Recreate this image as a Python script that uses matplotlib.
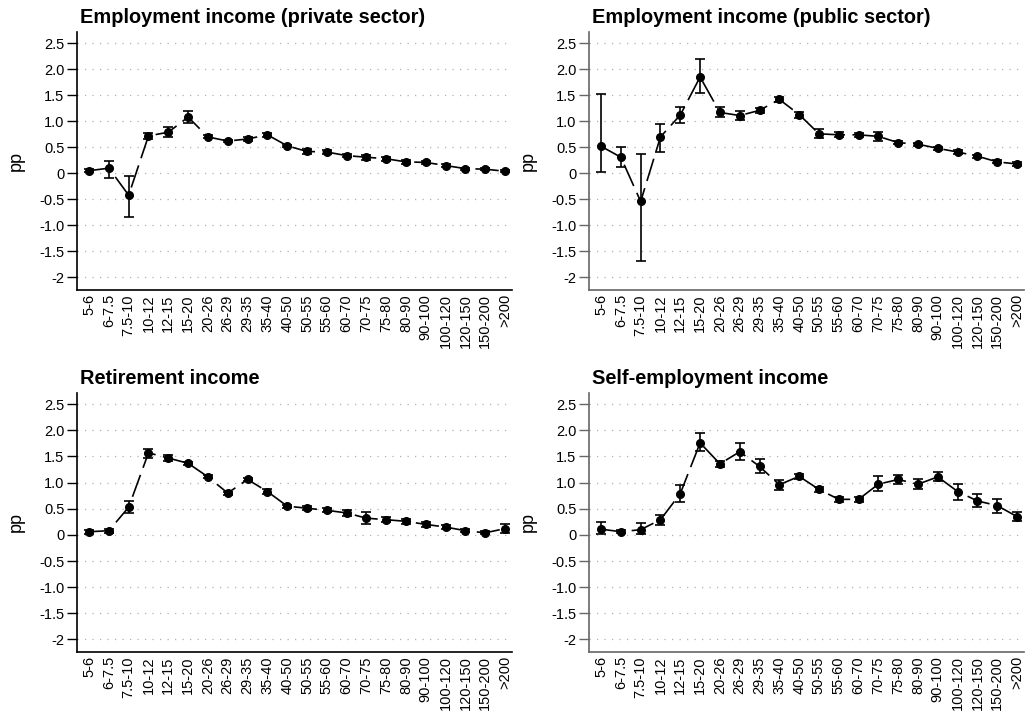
import numpy as np
import matplotlib
matplotlib.use("Agg")
import matplotlib.pyplot as plt

plt.rcParams['font.family'] = ['Liberation Sans', 'DejaVu Sans']

brackets = ["5-6", "6-7.5", "7.5-10", "10-12", "12-15", "15-20", "20-26", "26-29",
            "29-35", "35-40", "40-50", "50-55", "55-60", "60-70", "70-75", "75-80",
            "80-90", "90-100", "100-120", "120-150", "150-200", ">200"]

# private sector employment income
priv_est = [0.05, 0.10, -0.42, 0.72, 0.79, 1.08, 0.70, 0.62, 0.66, 0.74, 0.53,
            0.42, 0.41, 0.34, 0.31, 0.28, 0.22, 0.21, 0.15, 0.09, 0.08, 0.04]
priv_lo = [0.02, -0.08, -0.83, 0.66, 0.69, 0.97, 0.67, 0.60, 0.63, 0.70, 0.51,
           0.37, 0.37, 0.31, 0.26, 0.24, 0.18, 0.18, 0.13, 0.07, 0.06, 0.02]
priv_hi = [0.08, 0.23, -0.06, 0.78, 0.89, 1.19, 0.73, 0.64, 0.69, 0.78, 0.55,
           0.47, 0.45, 0.37, 0.36, 0.32, 0.26, 0.24, 0.17, 0.11, 0.10, 0.06]

# public sector employment income
pub_est = [0.52, 0.31, -0.54, 0.70, 1.12, 1.85, 1.17, 1.11, 1.21, 1.42, 1.13,
           0.76, 0.74, 0.74, 0.71, 0.59, 0.56, 0.48, 0.41, 0.33, 0.22, 0.18]
pub_lo = [0.03, 0.13, -1.69, 0.41, 0.96, 1.54, 1.08, 1.03, 1.15, 1.37, 1.07,
          0.67, 0.69, 0.69, 0.63, 0.56, 0.53, 0.45, 0.37, 0.30, 0.19, 0.15]
pub_hi = [1.53, 0.51, 0.38, 0.94, 1.28, 2.20, 1.28, 1.19, 1.26, 1.47, 1.18,
          0.85, 0.79, 0.78, 0.79, 0.62, 0.59, 0.51, 0.45, 0.36, 0.25, 0.21]

# retirement income
ret_est = [0.06, 0.08, 0.53, 1.57, 1.47, 1.37, 1.11, 0.80, 1.06, 0.83, 0.55,
           0.51, 0.47, 0.42, 0.32, 0.29, 0.26, 0.20, 0.15, 0.08, 0.04, 0.12]
ret_lo = [0.02, 0.04, 0.42, 1.48, 1.42, 1.34, 1.08, 0.77, 1.03, 0.79, 0.52,
          0.47, 0.43, 0.37, 0.20, 0.24, 0.21, 0.16, 0.12, 0.05, 0.01, 0.03]
ret_hi = [0.10, 0.12, 0.65, 1.65, 1.52, 1.40, 1.14, 0.83, 1.09, 0.87, 0.58,
          0.55, 0.51, 0.47, 0.44, 0.34, 0.31, 0.24, 0.18, 0.11, 0.07, 0.21]

# self-employment income
self_est = [0.11, 0.06, 0.10, 0.29, 0.79, 1.76, 1.36, 1.59, 1.31, 0.96, 1.12,
            0.87, 0.68, 0.68, 0.97, 1.06, 0.97, 1.11, 0.83, 0.65, 0.56, 0.35]
self_lo = [0.02, 0.03, 0.02, 0.19, 0.62, 1.61, 1.29, 1.44, 1.18, 0.86, 1.06,
           0.83, 0.62, 0.63, 0.84, 0.97, 0.87, 1.03, 0.67, 0.54, 0.42, 0.26]
self_hi = [0.25, 0.09, 0.22, 0.39, 0.96, 1.95, 1.42, 1.75, 1.45, 1.05, 1.17,
           0.92, 0.73, 0.73, 1.12, 1.14, 1.06, 1.20, 0.97, 0.78, 0.69, 0.44]

panels = [
    ("Employment income (private sector)", priv_est, priv_lo, priv_hi),
    ("Employment income (public sector)", pub_est, pub_lo, pub_hi),
    ("Retirement income", ret_est, ret_lo, ret_hi),
    ("Self-employment income", self_est, self_lo, self_hi),
]

yticks = [2.5, 2.0, 1.5, 1.0, 0.5, 0, -0.5, -1.0, -1.5, -2]
ytick_labels = ["2.5", "2.0", "1.5", "1.0", "0.5", "0", "-0.5", "-1.0", "-1.5", "-2"]

fig = plt.figure(figsize=(10.25, 7.13), dpi=100)
boxes = [
    [0.0751, 0.5933, 0.4244, 0.3622],
    [0.5746, 0.5933, 0.4244, 0.3622],
    [0.0751, 0.0856, 0.4244, 0.3636],
    [0.5746, 0.0856, 0.4244, 0.3636],
]

x = np.arange(len(brackets))

for i, (title, est, lo, hi) in enumerate(panels):
    ax = fig.add_axes(boxes[i])
    est = np.array(est)
    lo = np.array(lo)
    hi = np.array(hi)

    for yv in yticks:
        ax.axhline(yv, color='#b0b0b0', lw=0.9, ls=(0, (1, 5)), zorder=0)

    ax.plot(x, est, color='black', lw=1.2, ls=(0, (14, 4.5)), zorder=2)
    ax.errorbar(x, est, yerr=[est - lo, hi - est], fmt='none', ecolor='black',
                elinewidth=1.2, capsize=3.6, capthick=1.2, zorder=3)
    ax.plot(x, est, 'o', color='black', ms=5.5, zorder=4)

    ax.set_xlim(-0.61, 21.35)
    ax.set_ylim(-2.24, 2.72)
    ax.set_yticks(yticks)
    ax.set_yticklabels(ytick_labels, fontsize=10.5)
    ax.set_xticks(x)
    ax.set_xticklabels(brackets, rotation=90, fontsize=10.5)
    ax.tick_params(axis='x', length=0, pad=3)
    ax.tick_params(axis='y', length=7, width=1, pad=2)
    ax.set_ylabel("pp", fontsize=13)
    ax.yaxis.set_label_coords(-0.12, 0.5)
    ax.set_title(title, loc='left', fontsize=14.4, fontweight='bold', pad=6, x=0.007)

    spine_col = 'black' if i % 2 == 0 else '#666666'
    for side in ['top', 'right']:
        ax.spines[side].set_visible(False)
    for side in ['left', 'bottom']:
        ax.spines[side].set_color(spine_col)
        ax.spines[side].set_linewidth(1.2)
    ax.tick_params(axis='y', color=spine_col)

fig.savefig("out.png", dpi=100)
